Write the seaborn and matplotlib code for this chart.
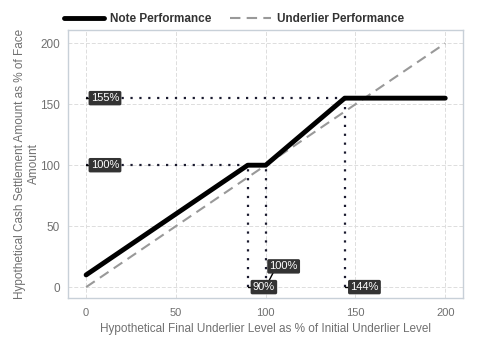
import seaborn as sns
import matplotlib.pyplot as plt
import pandas as pd
import numpy as np

# note payoff and underlier
note_x = [0, 90, 100, 144, 200]
note_y = [10, 100, 100, 155, 155]
under_x = [0, 200]
under_y = [0, 200]

# reference levels: (x, y, label)
h_refs = [(144, 155, "155%"), (90, 100, "100%")]
v_refs = [(90, 100, "90%"), (100, 100, "100%"), (144, 155, "144%")]
v_label_pos = [(99, 0), (110, 17), (155, 0)]
h_label_pos = [(10.5, 155), (10.5, 100)]


def main():
    sns.set_theme(style="whitegrid")
    plt.rcParams['font.family'] = ['Liberation Sans', 'DejaVu Sans']
    fig = plt.figure(figsize=(4.8, 3.6), dpi=100)
    ax = fig.add_axes([0.142, 0.172, 0.823, 0.745])

    df_note = pd.DataFrame({'x': note_x, 'y': note_y})
    df_under = pd.DataFrame({'x': under_x, 'y': under_y})

    # dotted reference lines
    for (x, y, _) in h_refs:
        ax.plot([0, x], [y, y], color="#1a1a2e", lw=1.6, ls=(0, (1, 3)), zorder=2)
    for (x, y, _) in v_refs:
        ax.plot([x, x], [0, y], color="#1a1a2e", lw=1.6, ls=(0, (1, 3)), zorder=2)

    sns.lineplot(data=df_under, x='x', y='y', ax=ax, color="#999999", lw=1.5,
                 linestyle=(0, (5, 3)), label="Underlier Performance", zorder=3)
    sns.lineplot(data=df_note, x='x', y='y', ax=ax, color="black", lw=3.5,
                 label="Note Performance", zorder=4)

    box = dict(boxstyle="round,pad=0.2,rounding_size=0.15", fc="#333333", ec="none")
    for (x, y, lab), (lx, ly) in zip(h_refs, h_label_pos):
        ax.plot([0, lx - 5], [y, y], color="black", lw=1, zorder=5)
        ax.text(lx, ly, lab, color="white", fontsize=8, ha="center", va="center",
                bbox=box, zorder=6)
    for (x, y, lab), (lx, ly) in zip(v_refs, v_label_pos):
        ax.plot([x, lx - 4], [0, ly], color="black", lw=1, zorder=5)
        ax.text(lx, ly, lab, color="white", fontsize=8, ha="center", va="center",
                bbox=box, zorder=6)

    ax.set_xlim(-10, 210)
    ax.set_ylim(-9, 211)
    ax.set_xticks([0, 50, 100, 150, 200])
    ax.set_yticks([0, 50, 100, 150, 200])
    ax.grid(True, color="#dddddd", ls=(0, (4, 2)), lw=0.7)
    for s in ax.spines.values():
        s.set_color("#c8d0d8")
        s.set_linewidth(1)
    ax.tick_params(axis='x', labelsize=8, colors="#707070", length=0, pad=7)
    ax.tick_params(axis='y', labelsize=8.5, colors="#707070", length=0, pad=6)
    ax.set_xlabel("Hypothetical Final Underlier Level as % of Initial Underlier Level",
                  fontsize=8.5, color="#707070")
    ax.set_ylabel("Hypothetical Cash Settlement Amount as % of Face\nAmount",
                  fontsize=8.5, color="#707070", labelpad=0)

    handles, labels = ax.get_legend_handles_labels()
    leg = ax.legend(handles[::-1], labels[::-1], loc="lower left", bbox_to_anchor=(-0.025, 0.995),
                    ncol=2, frameon=False, prop={'weight': 'bold', 'size': 8.5},
                    handlelength=3.4, handletextpad=0.5, columnspacing=1.6, borderaxespad=0.1)
    for t in leg.get_texts():
        t.set_color("#333333")

    plt.savefig("out.png")


if __name__ == "__main__":
    main()
